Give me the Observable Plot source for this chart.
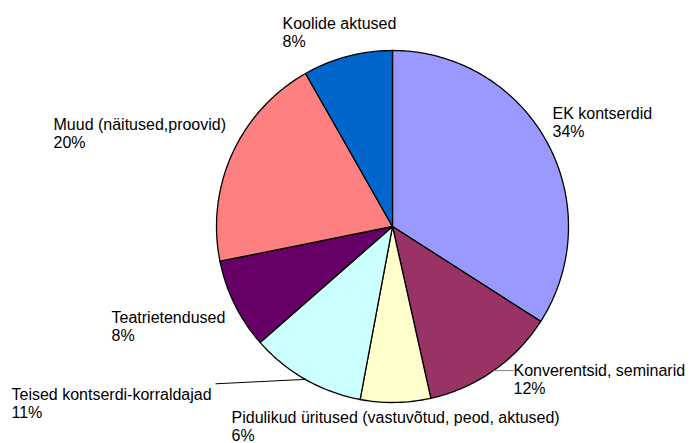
<!DOCTYPE html>
<html>
<head>
<meta charset="utf-8">
<script src="https://cdn.jsdelivr.net/npm/d3@7"></script>
<script src="https://cdn.jsdelivr.net/npm/@observablehq/plot@0.6"></script>
<style>
  html, body { margin: 0; padding: 0; background: #fff; }
  #chart svg { display: block; }
</style>
</head>
<body>
<div id="chart"></div>
<script>
// ---- data ----
const categories = [
  "EK kontserdid",
  "Konverentsid, seminarid",
  "Pidulikud üritused (vastuvõtud, peod, aktused)",
  "Teised kontserdi-korraldajad",
  "Teatrietendused",
  "Muud (näitused,proovid)",
  "Koolide aktused"
];
const values = [34.06, 12.44, 6.44, 10.61, 8.28, 19.94, 8.22];
const colors = ["#9999FF", "#993366", "#FFFFCC", "#CCFFFF", "#660066", "#FF8080", "#0066CC"];

// ---- layout (pixels) ----
const W = 698, H = 443;
const cx = 392, cy = 226, R = 176;
// label anchor: left x, baseline of the last (percent) line
const labelPos = [
  [552, 136],
  [513, 393],
  [231, 440],
  [11, 417.5],
  [111, 340],
  [53, 147.7],
  [282, 46.7]
];
// leader line end near label (null = none)
const leaderEnd = [null, [513, 370], null, [215, 383.3], null, null, null];
const leaderColor = [null, "#808080", null, "#000000", null, null, null];

// ---- build slices ----
const total = d3.sum(values);
const toDataX = px => (px - cx) / R;
const toDataY = py => (cy - py) / R;

let acc = 0;
const slicePts = [];
const sliceInfo = [];
categories.forEach((name, i) => {
  const a0 = acc / total * 2 * Math.PI;
  acc += values[i];
  const a1 = acc / total * 2 * Math.PI;
  const steps = Math.max(2, Math.ceil((a1 - a0) / (Math.PI / 180)));
  slicePts.push({name, x: 0, y: 0});
  for (let k = 0; k <= steps; k++) {
    const a = a0 + (a1 - a0) * k / steps;
    slicePts.push({name, x: Math.sin(a), y: Math.cos(a)});
  }
  const am = (a0 + a1) / 2;
  sliceInfo.push({
    name,
    pct: Math.round(values[i] / total * 100) + "%",
    mx: Math.sin(am), my: Math.cos(am)
  });
});

const labels = sliceInfo.map((s, i) => ({
  text: s.name + "\n" + s.pct,
  x: toDataX(labelPos[i][0]),
  y: toDataY(labelPos[i][1])
}));

const leaders = sliceInfo.map((s, i) => leaderEnd[i] ? {
  x1: s.mx, y1: s.my,
  x2: toDataX(leaderEnd[i][0]), y2: toDataY(leaderEnd[i][1]),
  c: leaderColor[i]
} : null).filter(Boolean);

const chart = Plot.plot({
  width: W,
  height: H,
  margin: 0,
  x: {domain: [-1, 1], range: [cx - R, cx + R], axis: null},
  y: {domain: [-1, 1], range: [cy + R, cy - R], axis: null},
  color: {domain: categories, range: colors},
  style: {fontFamily: "'Liberation Sans', Arial, sans-serif", background: "#fff"},
  marks: [
    Plot.line(slicePts, {
      x: "x", y: "y", z: "name", fill: "name",
      stroke: "#000", strokeWidth: 1.3, curve: "linear-closed", strokeLinejoin: "round"
    }),
    Plot.link(leaders, {
      x1: "x1", y1: "y1", x2: "x2", y2: "y2",
      stroke: d => d.c, strokeWidth: 1
    }),
    Plot.text(labels, {
      x: "x", y: "y", text: "text",
      textAnchor: "start", lineAnchor: "bottom", lineHeight: 1.125,
      fontSize: 16, fill: "#000"
    })
  ]
});

document.getElementById("chart").appendChild(chart);
</script>
</body>
</html>
